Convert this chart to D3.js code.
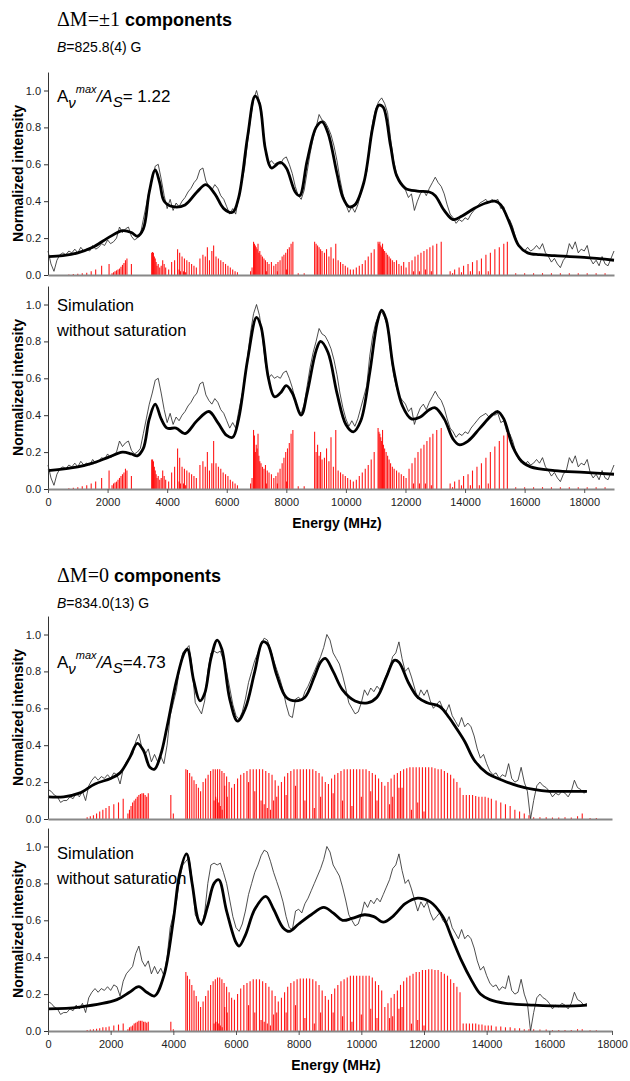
<!DOCTYPE html>
<html>
<head>
<meta charset="utf-8">
<script src="https://cdn.jsdelivr.net/npm/d3@7"></script>
<style>
  body { margin: 0; background: #fff; }
  svg { display: block; font-family: "Liberation Sans", Arial, sans-serif; }
</style>
</head>
<body>
<svg id="chart" width="630" height="1081"></svg>
<script>
// Experimental spectrum, dM=+-1 (one value every 100 MHz from 0)
var expStepM1 = 100;
var expM1 = [
  0.13,0.06,0.02,0.08,0.11,0.12,0.11,0.13,0.12,0.14,
  0.12,0.15,0.13,0.14,0.13,0.16,0.14,0.15,0.17,0.16,
  0.19,0.17,0.18,0.20,0.26,0.23,0.25,0.26,0.21,0.19,
  0.20,0.22,0.30,0.38,0.46,0.52,0.59,0.60,0.52,0.43,
  0.36,0.41,0.35,0.39,0.37,0.40,0.42,0.45,0.47,0.50,
  0.52,0.57,0.58,0.51,0.48,0.46,0.49,0.47,0.43,0.41,
  0.37,0.33,0.36,0.33,0.42,0.50,0.58,0.72,0.85,0.95,
  1.00,0.94,0.82,0.68,0.60,0.62,0.60,0.61,0.60,0.63,
  0.64,0.60,0.55,0.48,0.43,0.41,0.46,0.56,0.66,0.74,
  0.80,0.87,0.84,0.83,0.80,0.76,0.70,0.62,0.52,0.44,
  0.38,0.34,0.37,0.34,0.38,0.44,0.50,0.56,0.72,0.83,
  0.90,0.94,0.96,0.93,0.88,0.74,0.62,0.55,0.50,0.48,
  0.46,0.42,0.44,0.35,0.40,0.44,0.46,0.43,0.47,0.50,
  0.53,0.50,0.48,0.44,0.38,0.33,0.31,0.28,0.30,0.29,
  0.31,0.30,0.33,0.35,0.37,0.39,0.40,0.41,0.39,0.41,
  0.40,0.41,0.36,0.37,0.31,0.30,0.26,0.20,0.16,0.14,
  0.13,0.15,0.13,0.14,0.16,0.14,0.17,0.12,0.10,0.07,
  0.09,0.06,0.04,0.08,0.10,0.17,0.14,0.18,0.12,0.14,
  0.13,0.16,0.09,0.06,0.08,0.05,0.10,0.06,0.05,0.09,
  0.13
];

// Fit with saturation, dM=+-1  [MHz, intensity]
var fitSatM1 = [
  [0,0.10],[500,0.105],[1000,0.12],[1500,0.15],[2000,0.20],[2500,0.24],[2800,0.23],
  [3000,0.21],[3200,0.25],[3400,0.45],[3600,0.57],[3750,0.50],[3900,0.40],[4200,0.37],
  [4600,0.38],[5000,0.45],[5300,0.49],[5600,0.44],[5900,0.36],[6200,0.34],[6400,0.42],
  [6700,0.75],[6950,0.97],[7100,0.93],[7300,0.68],[7500,0.58],[7800,0.61],[8000,0.58],
  [8300,0.45],[8450,0.43],[8700,0.62],[9000,0.80],[9200,0.83],[9400,0.77],[9700,0.55],
  [9900,0.42],[10100,0.37],[10300,0.38],[10600,0.50],[10900,0.80],[11100,0.92],
  [11250,0.91],[11500,0.70],[11700,0.54],[12000,0.47],[12400,0.455],[12800,0.45],
  [13000,0.43],[13300,0.35],[13600,0.30],[13900,0.32],[14300,0.36],[14700,0.39],
  [15000,0.40],[15200,0.38],[15500,0.28],[15800,0.16],[16100,0.12],[16500,0.11],
  [17000,0.105],[18000,0.095],[19000,0.08]
];

// Simulation without saturation, dM=+-1
var fitNoSatM1 = [
  [0,0.10],[1000,0.12],[1500,0.14],[2000,0.17],[2500,0.20],[2800,0.19],[3000,0.18],
  [3200,0.22],[3400,0.38],[3600,0.46],[3800,0.38],[4000,0.33],[4300,0.33],[4600,0.30],
  [5000,0.37],[5400,0.42],[5700,0.36],[6000,0.29],[6200,0.28],[6400,0.38],[6700,0.70],
  [7000,0.93],[7150,0.88],[7400,0.60],[7600,0.50],[7800,0.52],[8000,0.56],[8200,0.52],
  [8500,0.40],[8700,0.52],[9000,0.75],[9150,0.80],[9400,0.74],[9700,0.52],[10000,0.35],
  [10250,0.31],[10500,0.37],[10800,0.63],[11050,0.90],[11200,0.97],[11350,0.92],
  [11600,0.65],[11900,0.45],[12200,0.38],[12500,0.39],[12800,0.43],[13000,0.44],
  [13300,0.38],[13600,0.27],[13800,0.24],[14100,0.26],[14500,0.33],[14900,0.40],
  [15100,0.42],[15300,0.38],[15600,0.23],[15900,0.15],[16200,0.12],[17000,0.10],
  [18000,0.09],[19000,0.08]
];

// Stick spectrum dM=+-1: [MHz, height with saturation, height without]
var sticksM1 = [
  [700,0.003,0.004],[850,0.005,0.007],[1000,0.007,0.01],[1150,0.01,0.015],[1300,0.012,0.02],
  [1450,0.02,0.03],[1600,0.03,0.04],[1800,0.05,0.06],[2050,0.06,0.10],
  [2150,0.01,0.02],[2200,0.015,0.03],[2250,0.02,0.035],[2300,0.025,0.04],[2350,0.03,0.05],
  [2400,0.035,0.06],[2450,0.045,0.07],[2500,0.055,0.08],[2550,0.065,0.09],[2600,0.08,0.11],
  [2650,0.09,0.10],[2800,0.06,0.07],
  [3480,0.12,0.16],[3510,0.125,0.16],[3540,0.12,0.15],[3570,0.10,0.12],[3600,0.09,0.10],
  [3630,0.07,0.08],[3660,0.05,0.06],[3700,0.06,0.07],[3750,0.04,0.05],[3800,0.05,0.06],
  [3850,0.08,0.10],[3900,0.06,0.07],[3950,0.04,0.05],[4050,0.03,0.04],
  [4150,0.07,0.09],[4250,0.08,0.12],[4350,0.14,0.22],[4420,0.12,0.17],[4500,0.10,0.12],
  [4580,0.09,0.11],[4660,0.08,0.10],[4740,0.07,0.09],[4820,0.06,0.08],[4900,0.05,0.07],
  [4980,0.04,0.06],[4400,0.03,0.04],[4450,0.02,0.03],[4550,0.02,0.03],[4620,0.015,0.02],
  [5100,0.09,0.13],[5200,0.11,0.15],[5280,0.10,0.12],[5350,0.15,0.20],[5420,0.08,0.10],
  [5500,0.13,0.14],[5560,0.16,0.26],[5640,0.10,0.14],[5720,0.09,0.12],[5800,0.08,0.11],
  [5880,0.07,0.09],[5960,0.06,0.08],[6040,0.05,0.07],[6120,0.04,0.05],[6200,0.03,0.04],
  [6280,0.02,0.03],[6360,0.015,0.02],
  [6800,0.02,0.03],[6850,0.04,0.06],[6900,0.18,0.32],[6930,0.17,0.29],[6960,0.16,0.20],
  [6990,0.15,0.24],[7020,0.14,0.22],[7050,0.17,0.30],[7080,0.12,0.18],[7110,0.13,0.15],
  [7150,0.11,0.14],[7200,0.10,0.12],[7250,0.09,0.11],[7300,0.08,0.13],[7360,0.07,0.10],
  [7420,0.06,0.09],[7500,0.07,0.08],[7580,0.05,0.06],
  [7650,0.06,0.07],[7720,0.07,0.09],[7790,0.08,0.11],[7860,0.10,0.14],[7920,0.11,0.17],
  [7980,0.12,0.20],[8040,0.14,0.22],[8100,0.15,0.25],[8160,0.17,0.30],[8220,0.18,0.32],
  [7330,0.02,0.03],[7700,0.02,0.03],[8010,0.03,0.04],[8400,0.01,0.015],[8600,0.01,0.015],
  [8950,0.18,0.31],[9000,0.17,0.20],[9050,0.16,0.24],[9100,0.15,0.18],[9150,0.14,0.20],
  [9200,0.13,0.16],[9280,0.12,0.17],[9350,0.14,0.22],[9430,0.10,0.15],[9500,0.15,0.28],
  [9580,0.09,0.12],[9660,0.17,0.32],[9740,0.08,0.10],[9820,0.07,0.09],[9900,0.06,0.08],
  [9980,0.05,0.07],[10060,0.04,0.06],[10150,0.03,0.05],[10250,0.03,0.04],
  [10350,0.04,0.05],[10450,0.05,0.07],[10550,0.06,0.09],[10650,0.08,0.11],[10750,0.10,0.13],
  [10850,0.12,0.16],[10950,0.14,0.20],
  [11080,0.18,0.33],[11110,0.17,0.31],[11140,0.18,0.30],[11170,0.16,0.28],[11200,0.15,0.26],
  [11230,0.17,0.32],[11260,0.14,0.24],[11300,0.13,0.22],[11350,0.12,0.20],[11400,0.11,0.18],
  [11450,0.10,0.16],[11500,0.09,0.14],[11560,0.08,0.12],[11620,0.07,0.11],[11700,0.08,0.10],
  [11780,0.06,0.09],[11860,0.05,0.08],[11940,0.07,0.07],[12020,0.04,0.06],
  [12120,0.07,0.11],[12220,0.08,0.14],[12320,0.10,0.17],[12420,0.11,0.20],[12520,0.12,0.22],
  [12620,0.13,0.24],[12720,0.14,0.26],[12820,0.15,0.28],[12920,0.16,0.30],[13050,0.17,0.32],
  [13200,0.18,0.33],[12270,0.02,0.03],[12470,0.02,0.03],[12670,0.03,0.03],[12870,0.02,0.02],
  [13500,0.02,0.03],[13650,0.03,0.04],[13800,0.04,0.05],[13950,0.05,0.07],[14100,0.06,0.08],
  [14250,0.07,0.10],[14400,0.08,0.12],[14550,0.09,0.14],[14700,0.11,0.17],[14850,0.12,0.20],
  [15000,0.14,0.23],[15150,0.15,0.26],[15300,0.17,0.29],[15420,0.18,0.33],
  [13580,0.01,0.01],[13880,0.015,0.02],[14180,0.02,0.02],[14480,0.02,0.02],[14780,0.02,0.03],
  [15700,0.01,0.01],[16000,0.01,0.01],[16300,0.01,0.01],[16600,0.01,0.01],[16900,0.01,0.01],
  [17200,0.01,0.01],[17500,0.01,0.01],[17800,0.01,0.01],[18100,0.01,0.01],[18400,0.01,0.01],
  [18700,0.01,0.01]
];

// Experimental spectrum, dM=0 (one value every 100 MHz from 0)
var expStepM0 = 100;
var expM0 = [
  0.16,0.15,0.13,0.12,0.09,0.10,0.10,0.12,0.11,0.14,
  0.12,0.15,0.10,0.18,0.21,0.23,0.21,0.23,0.22,0.24,
  0.22,0.25,0.24,0.19,0.27,0.31,0.33,0.35,0.42,0.46,
  0.38,0.35,0.38,0.31,0.35,0.31,0.34,0.30,0.40,0.56,
  0.63,0.70,0.82,0.90,0.92,0.94,0.82,0.63,0.60,0.57,
  0.64,0.80,0.90,0.91,0.90,0.91,0.86,0.80,0.71,0.62,
  0.56,0.54,0.58,0.65,0.74,0.80,0.86,0.90,0.95,0.98,
  0.97,0.92,0.86,0.81,0.76,0.70,0.62,0.56,0.55,0.65,
  0.66,0.64,0.69,0.72,0.76,0.80,0.84,0.88,0.93,1.00,
  0.97,0.90,0.87,0.84,0.78,0.71,0.63,0.60,0.57,0.58,
  0.63,0.70,0.67,0.71,0.69,0.72,0.70,0.74,0.78,0.82,
  0.88,0.90,0.96,0.87,0.80,0.82,0.77,0.71,0.65,0.70,
  0.67,0.70,0.64,0.60,0.62,0.64,0.60,0.58,0.62,0.56,
  0.53,0.50,0.55,0.50,0.52,0.50,0.45,0.38,0.33,0.35,
  0.30,0.26,0.24,0.25,0.22,0.24,0.23,0.30,0.22,0.20,
  0.21,0.28,0.20,0.15,0.00,0.10,0.18,0.20,0.18,0.17,
  0.15,0.12,0.14,0.13,0.15,0.14,0.12,0.15,0.21,0.17,
  0.16,0.14,0.15
];

// Fit with saturation, dM=0
var fitSatM0 = [
  [0,0.12],[500,0.12],[1000,0.14],[1500,0.19],[2000,0.22],[2300,0.25],[2600,0.33],
  [2850,0.41],[3050,0.37],[3250,0.28],[3400,0.27],[3600,0.35],[3800,0.50],[4100,0.75],
  [4350,0.90],[4450,0.92],[4650,0.75],[4850,0.64],[5000,0.68],[5200,0.87],[5400,0.97],
  [5550,0.92],[5800,0.65],[6050,0.53],[6300,0.60],[6600,0.80],[6850,0.96],[7000,0.95],
  [7300,0.78],[7600,0.66],[7900,0.64],[8200,0.66],[8500,0.77],[8700,0.85],[8850,0.87],
  [9100,0.80],[9400,0.70],[9800,0.64],[10200,0.63],[10500,0.66],[10800,0.77],
  [11050,0.86],[11200,0.85],[11500,0.74],[11800,0.66],[12100,0.63],[12500,0.61],
  [12800,0.55],[13000,0.50],[13300,0.42],[13600,0.32],[14000,0.25],[14500,0.21],
  [15000,0.18],[15500,0.16],[16000,0.15],[16500,0.15],[17200,0.15]
];

// Simulation without saturation, dM=0
var fitNoSatM0 = [
  [0,0.12],[1000,0.13],[2200,0.17],[2600,0.21],[2900,0.24],[3150,0.21],[3400,0.19],
  [3700,0.30],[4000,0.60],[4200,0.85],[4420,0.96],[4600,0.80],[4800,0.60],[4900,0.58],
  [5100,0.68],[5300,0.80],[5450,0.82],[5700,0.65],[6000,0.48],[6100,0.46],[6300,0.52],
  [6600,0.66],[6950,0.73],[7200,0.66],[7500,0.56],[7700,0.54],[8000,0.58],[8400,0.63],
  [8800,0.67],[9100,0.64],[9400,0.60],[9700,0.61],[10100,0.63],[10400,0.62],[10700,0.59],
  [11000,0.62],[11400,0.69],[11800,0.72],[12200,0.70],[12600,0.62],[12900,0.50],
  [13200,0.38],[13500,0.28],[13800,0.20],[14100,0.17],[14600,0.15],[15500,0.14],
  [16500,0.135],[17200,0.14]
];

// Stick spectrum dM=0: [MHz, height with saturation, height without]
var sticksM0 = [
  [1250,0.01,0.005],[1350,0.015,0.008],[1450,0.02,0.01],[1550,0.03,0.012],[1650,0.04,0.015],
  [1750,0.05,0.02],[1850,0.06,0.02],[1950,0.07,0.025],[2100,0.08,0.03],[2250,0.09,0.035],
  [2400,0.11,0.04],[2550,0.03,0.01],[2600,0.05,0.02],[2650,0.07,0.025],[2700,0.09,0.03],
  [2750,0.10,0.04],[2800,0.11,0.045],[2850,0.12,0.05],[2900,0.13,0.055],[2950,0.135,0.055],
  [3000,0.14,0.055],[3050,0.14,0.05],[3100,0.13,0.05],[3150,0.12,0.045],[3200,0.14,0.05],
  [3920,0.13,0.05],[4000,0.03,0.01],
  [4400,0.27,0.32],[4450,0.265,0.30],[4520,0.25,0.28],[4590,0.23,0.25],[4660,0.21,0.22],
  [4730,0.19,0.19],[4800,0.17,0.16],[4870,0.15,0.13],
  [4950,0.20,0.16],[5030,0.22,0.19],[5110,0.24,0.22],[5190,0.26,0.25],[5270,0.27,0.27],
  [5340,0.27,0.28],[5410,0.27,0.29],[5480,0.27,0.29],[5550,0.26,0.28],[5620,0.25,0.26],
  [5700,0.23,0.24],[5780,0.20,0.21],[5860,0.17,0.18],
  [5300,0.10,0.04],[5350,0.12,0.05],[5400,0.11,0.05],[5450,0.09,0.04],[5500,0.07,0.03],
  [5560,0.05,0.02],[5640,0.18,0.13],[5720,0.12,0.10],
  [5950,0.19,0.17],[6050,0.22,0.20],[6150,0.24,0.23],[6250,0.25,0.25],[6350,0.26,0.26],
  [6450,0.27,0.27],[6550,0.27,0.28],[6650,0.27,0.28],[6750,0.27,0.28],[6850,0.27,0.27],
  [6950,0.26,0.26],[7050,0.25,0.24],[7150,0.24,0.22],[7250,0.21,0.19],[7350,0.18,0.16],
  [6400,0.20,0.14],[6600,0.15,0.10],[6800,0.10,0.06],[6900,0.08,0.05],[7000,0.06,0.04],
  [7100,0.05,0.03],[7200,0.10,0.09],[7300,0.12,0.10],
  [7450,0.20,0.18],[7550,0.23,0.21],[7650,0.25,0.24],[7750,0.26,0.26],[7850,0.27,0.27],
  [7950,0.27,0.28],[8050,0.27,0.285],[8150,0.27,0.285],[8250,0.27,0.285],[8350,0.27,0.285],
  [8450,0.27,0.28],[8550,0.26,0.27],[8650,0.25,0.25],[8750,0.23,0.22],[8850,0.20,0.19],
  [7600,0.13,0.10],[7900,0.18,0.14],[8200,0.10,0.07],[8500,0.06,0.04],[8700,0.12,0.10],
  [8950,0.19,0.17],[9050,0.22,0.20],[9150,0.24,0.23],[9250,0.25,0.25],[9350,0.26,0.27],
  [9450,0.27,0.28],[9550,0.27,0.29],[9650,0.27,0.30],[9750,0.27,0.30],[9850,0.27,0.30],
  [9950,0.27,0.30],[10050,0.27,0.30],[10150,0.27,0.30],[10250,0.26,0.30],[10350,0.25,0.29],
  [10450,0.24,0.27],[10550,0.22,0.25],[10650,0.20,0.22],
  [9100,0.14,0.10],[9400,0.10,0.08],[9700,0.07,0.05],[10000,0.12,0.09],[10300,0.15,0.12],
  [10500,0.10,0.07],
  [10750,0.18,0.13],[10850,0.20,0.15],[10950,0.22,0.18],[11050,0.24,0.20],[11150,0.25,0.22],
  [11250,0.26,0.25],[11350,0.27,0.27],[11450,0.275,0.29],[11550,0.28,0.30],[11650,0.28,0.31],
  [11750,0.28,0.32],[11850,0.28,0.32],[11950,0.28,0.33],[12050,0.28,0.33],[12150,0.28,0.335],
  [12250,0.28,0.335],[12350,0.275,0.33],[12450,0.27,0.33],[12550,0.27,0.32],[12650,0.26,0.31],
  [12750,0.25,0.30],[12850,0.24,0.28],[12950,0.22,0.26],[13050,0.20,0.24],[13150,0.17,0.21],
  [10900,0.08,0.07],[11000,0.12,0.08],[11200,0.17,0.12],[11300,0.17,0.13],[11600,0.05,0.04],
  [11800,0.09,0.06],[12000,0.04,0.03],
  [13250,0.13,0.04],[13350,0.13,0.04],[13450,0.13,0.04],[13550,0.13,0.04],[13650,0.125,0.04],
  [13750,0.12,0.035],[13850,0.12,0.035],[13950,0.12,0.03],[14050,0.115,0.03],[14150,0.11,0.03],
  [14300,0.10,0.025],[14450,0.09,0.025],[14600,0.08,0.02],[14750,0.07,0.02],[14900,0.05,0.015],
  [15050,0.04,0.015],[15200,0.03,0.01],[15350,0.02,0.01],[15500,0.01,0.01],[15700,0.01,0.008],
  [15900,0.01,0.008],[16100,0.008,0.005],[16300,0.008,0.005],[16500,0.01,0.006],
  [16700,0.008,0.005],[16900,0.015,0.01],[17050,0.03,0.01],[17300,0.005,0.004],[17500,0.005,0.004]
];

var yTicks = [0, 0.2, 0.4, 0.6, 0.8, 1.0];
var xTicks = [0, 2000, 4000, 6000, 8000, 10000, 12000, 14000, 16000, 18000];

var svg = d3.select('#chart');

// x scales (the two halves have different ranges)
var xM1 = d3.scaleLinear().domain([0, 19000]).range([48, 614]);
var xM0 = d3.scaleLinear().domain([0, 18000]).range([48, 612]);

function drawPanel(o) {
  var x = o.x;
  var y = d3.scaleLinear().domain([0, 1.1]).range([o.y0, o.y0 - 1.1 * 184.5]);
  var g = svg.append('g');

  // sticks
  g.selectAll('line.stick')
   .data(o.sticks)
   .enter()
   .append('line')
   .attr('class', 'stick')
   .attr('x1', function(d) { return x(d[0]); })
   .attr('x2', function(d) { return x(d[0]); })
   .attr('y1', y(0))
   .attr('y2', function(d) { return y(d[o.col]); })
   .attr('stroke', '#ff0000')
   .attr('stroke-width', 1.1)
   .attr('opacity', 0.9);

  // experimental trace
  var thin = d3.line()
               .x(function(d, i) { return x(i * o.step); })
               .y(function(d) { return y(d); });
  g.append('path')
   .attr('d', thin(o.exp))
   .attr('fill', 'none')
   .attr('stroke', '#222')
   .attr('stroke-width', 0.8);

  // fitted / simulated curve
  var thick = d3.line()
                .x(function(d) { return x(d[0]); })
                .y(function(d) { return y(d[1]); })
                .curve(d3.curveCatmullRom.alpha(0.5));
  g.append('path')
   .attr('d', thick(o.fit))
   .attr('fill', 'none')
   .attr('stroke', '#000')
   .attr('stroke-width', 2.8)
   .attr('stroke-linejoin', 'round');

  // y axis
  var yAxis = d3.axisLeft(y)
                .tickValues(yTicks)
                .tickFormat(d3.format('.1f'))
                .tickSize(4)
                .tickSizeOuter(0);
  var ya = g.append('g')
            .attr('transform', 'translate(' + x(0) + ',0)')
            .call(yAxis);
  ya.select('.domain').attr('stroke', '#333');
  ya.selectAll('.tick line').attr('stroke', '#333');
  ya.selectAll('text').attr('font-size', 11).attr('fill', '#222')
    .attr('font-family', '"Liberation Sans", Arial, sans-serif');

  // x axis
  var xAxis = d3.axisBottom(x)
                .tickValues(o.labels ? xTicks : [])
                .tickFormat(d3.format('d'))
                .tickSize(4)
                .tickSizeOuter(0)
                .tickPadding(5);
  var xa = g.append('g')
            .attr('transform', 'translate(0,' + y(0) + ')')
            .call(xAxis);
  xa.select('.domain').attr('stroke', '#888').attr('stroke-width', 2);
  xa.selectAll('.tick line').attr('stroke', '#555');
  xa.selectAll('text').attr('font-size', 11).attr('fill', '#222')
    .attr('font-family', '"Liberation Sans", Arial, sans-serif');

  // y label
  g.append('text')
   .attr('transform', 'translate(23,' + (y(0) + y(1.1)) / 2 + ') rotate(-90)')
   .attr('text-anchor', 'middle')
   .attr('font-size', 14)
   .attr('font-weight', 'bold')
   .text('Normalized intensity');

  if (o.labels) {
    g.append('text')
     .attr('x', (x.range()[0] + x.range()[1]) / 2 + 6)
     .attr('y', y(0) + 39)
     .attr('text-anchor', 'middle')
     .attr('font-size', 14)
     .attr('font-weight', 'bold')
     .text('Energy (MHz)');
  }
  return y;
}

function ratioNote(ty, value) {
  var t = svg.append('text').attr('x', 57).attr('y', ty).attr('font-size', 17);
  t.append('tspan').text('A');
  t.append('tspan').attr('font-style', 'italic').attr('font-size', 15).attr('dy', 6).text('ν');
  t.append('tspan').attr('font-style', 'italic').attr('font-size', 11).attr('dy', -15).text('max');
  t.append('tspan').attr('font-style', 'italic').attr('dy', 9).text('/A');
  t.append('tspan').attr('font-style', 'italic').attr('font-size', 15).attr('dy', 5).text('S');
  t.append('tspan').attr('dy', -5).text(value);
}

function simNote(ty) {
  svg.append('text').attr('x', 57).attr('y', ty).attr('font-size', 16.5).text('Simulation');
  svg.append('text').attr('x', 57).attr('y', ty + 25).attr('font-size', 16.5).text('without saturation');
}

function heading(ty, sym, field) {
  var t = svg.append('text').attr('x', 57).attr('y', ty);
  t.append('tspan').attr('font-family', '"Liberation Serif", "Times New Roman", serif')
   .attr('font-size', 20).text(sym);
  t.append('tspan').attr('font-size', 18).attr('font-weight', 'bold').text(' components');
  var b = svg.append('text').attr('x', 57).attr('y', ty + 26).attr('font-size', 14);
  b.append('tspan').attr('font-style', 'italic').text('B');
  b.append('tspan').text(field);
}

// dM = +-1
heading(26, 'ΔM=±1', '=825.8(4) G');
drawPanel({ x: xM1, y0: 275, exp: expM1, step: expStepM1, fit: fitSatM1, sticks: sticksM1, col: 1, labels: false });
drawPanel({ x: xM1, y0: 489, exp: expM1, step: expStepM1, fit: fitNoSatM1, sticks: sticksM1, col: 2, labels: true });
ratioNote(102, '= 1.22');
simNote(311);

// dM = 0
heading(582, 'ΔM=0', '=834.0(13) G');
drawPanel({ x: xM0, y0: 819, exp: expM0, step: expStepM0, fit: fitSatM0, sticks: sticksM0, col: 1, labels: false });
drawPanel({ x: xM0, y0: 1031, exp: expM0, step: expStepM0, fit: fitNoSatM0, sticks: sticksM0, col: 2, labels: true });
ratioNote(668, '=4.73');
simNote(859);
</script>
</body>
</html>
